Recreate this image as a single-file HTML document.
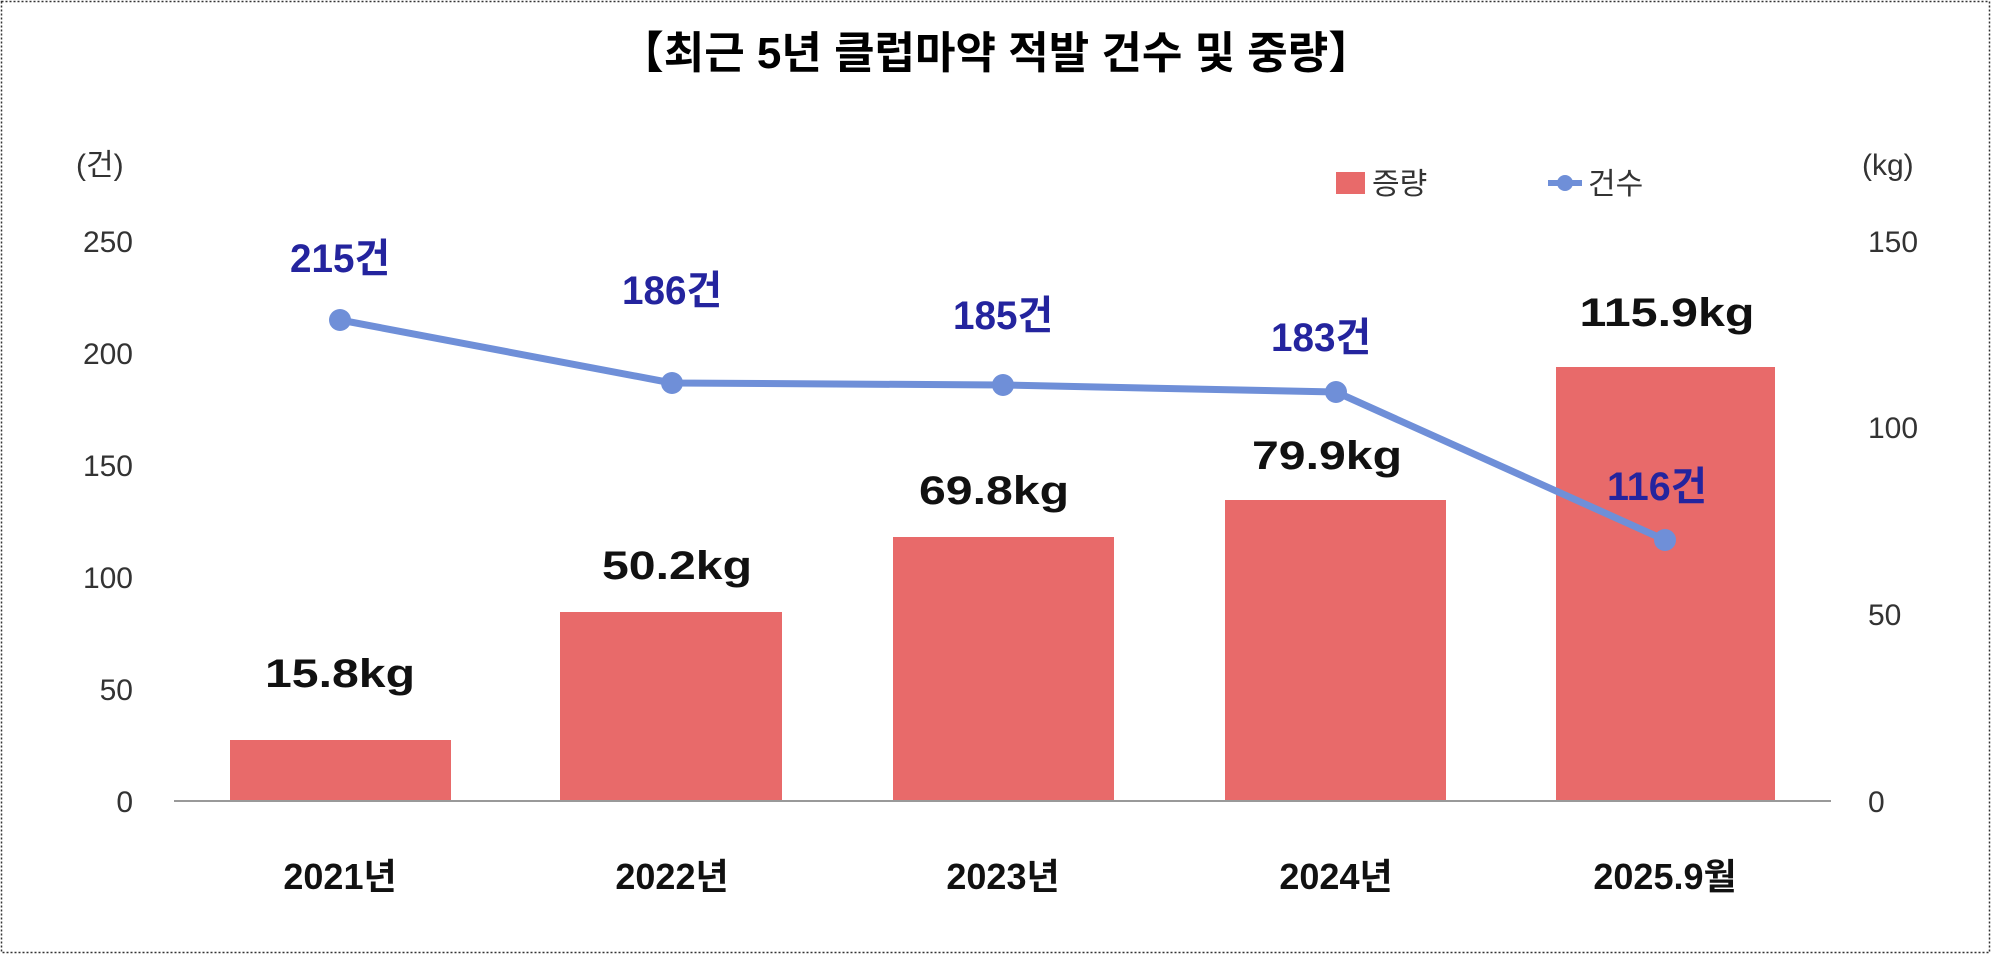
<!DOCTYPE html>
<html><head><meta charset="utf-8"><style>
body{margin:0;background:#fff}
svg{display:block}
text{font-family:"Liberation Sans","Noto Sans CJK KR",sans-serif}
</style></head><body>
<svg width="1991" height="954" viewBox="0 0 1991 954">
<rect x="1.5" y="1.5" width="1988" height="951" fill="#fff" stroke="#333" stroke-width="1.5" stroke-dasharray="2,2"/>
<text x="996" y="68" font-size="44" font-weight="bold" text-anchor="middle" fill="#000">【최근 5년 클럽마약 적발 건수 및 중량】</text>
<g font-size="30" fill="#333">
<text x="76" y="175">(건)</text>
<text x="1862" y="175">(kg)</text>
<g text-anchor="end">
<text x="133" y="252">250</text><text x="133" y="364">200</text><text x="133" y="476">150</text>
<text x="133" y="588">100</text><text x="133" y="700">50</text><text x="133" y="812">0</text>
</g>
<text x="1868" y="252">150</text><text x="1868" y="438">100</text><text x="1868" y="625">50</text><text x="1868" y="812">0</text>
</g>
<rect x="1336" y="172" width="29" height="22" fill="#e86a6a"/>
<text x="1372" y="194" font-size="30" fill="#333">증량</text>
<line x1="1548" y1="183" x2="1582" y2="183" stroke="#6f8fd8" stroke-width="6"/>
<circle cx="1565" cy="183" r="8" fill="#6f8fd8"/>
<text x="1588" y="194" font-size="30" fill="#333">건수</text>
<g fill="#e86a6a">
<rect x="230" y="740" width="221" height="61"/>
<rect x="560" y="612" width="222" height="189"/>
<rect x="893" y="537" width="221" height="264"/>
<rect x="1225" y="500" width="221" height="301"/>
<rect x="1556" y="367" width="219" height="434"/>
</g>
<line x1="174" y1="801" x2="1831" y2="801" stroke="#999" stroke-width="2"/>
<polyline points="340,320 672,383 1003,385 1336,392 1665,540" fill="none" stroke="#6f8fd8" stroke-width="7" stroke-linejoin="round"/>
<g fill="#6f8fd8">
<circle cx="340" cy="320" r="11"/><circle cx="672" cy="383" r="11"/><circle cx="1003" cy="385" r="11"/><circle cx="1336" cy="392" r="11"/><circle cx="1665" cy="540" r="11"/>
</g>
<g font-size="40" font-weight="bold" fill="#24249e" text-anchor="middle" transform="translate(0,0)">
<text x="340" y="272" textLength="100" lengthAdjust="spacingAndGlyphs">215건</text><text x="672" y="304" textLength="100" lengthAdjust="spacingAndGlyphs">186건</text><text x="1003" y="329" textLength="100" lengthAdjust="spacingAndGlyphs">185건</text><text x="1321" y="351" textLength="100" lengthAdjust="spacingAndGlyphs">183건</text><text x="1657" y="500" textLength="100" lengthAdjust="spacingAndGlyphs">116건</text>
</g>
<g font-size="40" font-weight="bold" fill="#111" text-anchor="middle">
<text x="340" y="687" textLength="150" lengthAdjust="spacingAndGlyphs">15.8kg</text><text x="677" y="579" textLength="150" lengthAdjust="spacingAndGlyphs">50.2kg</text><text x="994" y="504" textLength="150" lengthAdjust="spacingAndGlyphs">69.8kg</text><text x="1327" y="469" textLength="150" lengthAdjust="spacingAndGlyphs">79.9kg</text><text x="1667" y="326" textLength="175" lengthAdjust="spacingAndGlyphs">115.9kg</text>
</g>
<g font-size="36" font-weight="bold" fill="#111" text-anchor="middle">
<text x="340" y="889">2021년</text><text x="672" y="889">2022년</text><text x="1003" y="889">2023년</text><text x="1336" y="889">2024년</text><text x="1665" y="889">2025.9월</text>
</g>
</svg>
</body></html>
